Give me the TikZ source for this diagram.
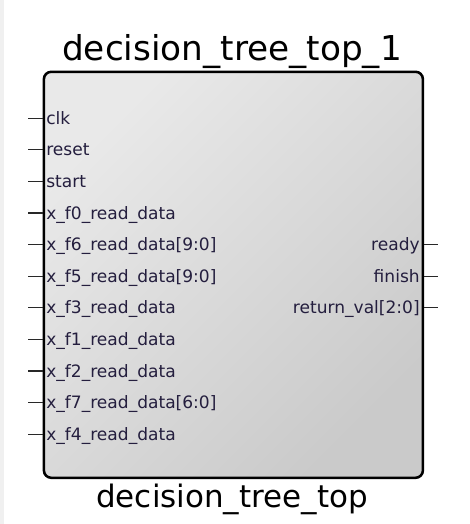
\documentclass[tikz,border=0pt]{standalone}
\usepackage{fontspec}
\setmainfont{DejaVu Sans}
\definecolor{portlabel}{RGB}{36,30,62}
\definecolor{portwire}{RGB}{40,40,40}
\definecolor{blockhi}{RGB}{233,233,233}
\definecolor{blocklo}{RGB}{202,202,202}
\definecolor{paneledge}{RGB}{240,240,240}

\begin{document}
\begin{tikzpicture}[x=0.75pt, y=-0.75pt]
        \tikzstyle{block} = [draw=black, line width=1.9pt, rounded corners=5.5pt,
            minimum width=284.25pt, minimum height=304.5pt, inner sep=0pt,
            top color=blockhi, bottom color=blocklo, shading angle=45]
        \tikzstyle{inport} = [anchor=base west, inner sep=0pt, text=portlabel,
            font=\fontsize{12.8}{15}\selectfont]
        \tikzstyle{outport} = [anchor=base east, inner sep=0pt, text=portlabel,
            font=\fontsize{12.8}{15}\selectfont]
        \tikzstyle{wire} = [draw=portwire, line width=0.8pt]
        \useasboundingbox (0,0) rectangle (470,524);
        \fill[paneledge] (0,0) rectangle (4,524);

        \node[block] (dtt) at (233.4,274.8) {};
        \node[anchor=base, font=\fontsize{25.7}{30}\selectfont] (inst) at (232,61)
            {decision\_tree\_top\_1};
        \node[anchor=base, font=\fontsize{23.2}{28}\selectfont] (modname) at (232,507)
            {decision\_tree\_top};

        \coordinate (clk_w) at (28,118.3);
        \coordinate (reset_w) at (28,149.9);
        \coordinate (start_w) at (28,181.4);
        \coordinate (f0_w) at (28,213.0);
        \coordinate (f6_w) at (28,244.6);
        \coordinate (f5_w) at (28,276.2);
        \coordinate (f3_w) at (28,307.8);
        \coordinate (f1_w) at (28,339.4);
        \coordinate (f2_w) at (28,371.0);
        \coordinate (f7_w) at (28,402.6);
        \coordinate (f4_w) at (28,434.2);
        \coordinate (ready_e) at (438,244.6);
        \coordinate (finish_e) at (438,276.2);
        \coordinate (retval_e) at (438,307.8);

        \node[inport] (clk) at (46,124.3) {clk};
        \node[inport] (reset) at (46,155.9) {reset};
        \node[inport] (start) at (46,187.4) {start};
        \node[inport] (f0) at (46,219.0) {x\_f0\_read\_data};
        \node[inport] (f6) at (46,250.6) {x\_f6\_read\_data[9:0]};
        \node[inport] (f5) at (46,282.2) {x\_f5\_read\_data[9:0]};
        \node[inport] (f3) at (46,313.8) {x\_f3\_read\_data};
        \node[inport] (f1) at (46,345.4) {x\_f1\_read\_data};
        \node[inport] (f2) at (46,377.0) {x\_f2\_read\_data};
        \node[inport] (f7) at (46,408.6) {x\_f7\_read\_data[6:0]};
        \node[inport] (f4) at (46,440.2) {x\_f4\_read\_data};
        \node[outport] (ready) at (420,250.6) {ready};
        \node[outport] (finish) at (420,282.2) {finish};
        \node[outport] (retval) at (420,313.8) {return\_val[2:0]};

        \draw[wire] (clk_w) -- (clk_w -| dtt.west);
        \draw[wire] (reset_w) -- (reset_w -| dtt.west);
        \draw[wire] (start_w) -- (start_w -| dtt.west);
        \draw[wire] (f0_w) -- (f0_w -| dtt.west);
        \draw[wire] (f6_w) -- (f6_w -| dtt.west);
        \draw[wire] (f5_w) -- (f5_w -| dtt.west);
        \draw[wire] (f3_w) -- (f3_w -| dtt.west);
        \draw[wire] (f1_w) -- (f1_w -| dtt.west);
        \draw[wire] (f2_w) -- (f2_w -| dtt.west);
        \draw[wire] (f7_w) -- (f7_w -| dtt.west);
        \draw[wire] (f4_w) -- (f4_w -| dtt.west);
        \draw[wire] (ready_e -| dtt.east) -- (ready_e);
        \draw[wire] (finish_e -| dtt.east) -- (finish_e);
        \draw[wire] (retval_e -| dtt.east) -- (retval_e);
    \end{tikzpicture}
\end{document}
